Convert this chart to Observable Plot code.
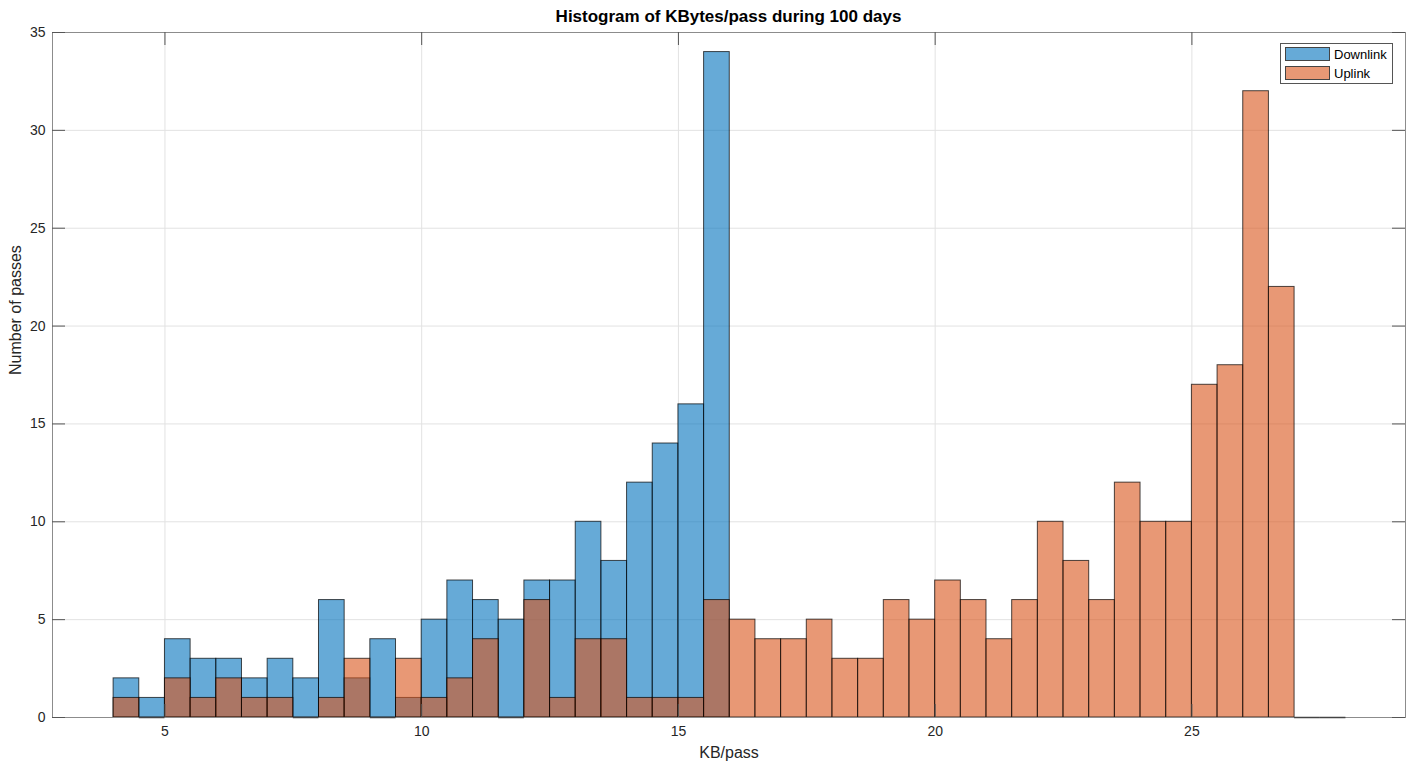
<!DOCTYPE html>
<html>
<head>
<meta charset="utf-8">
<script src="https://cdn.jsdelivr.net/npm/d3@7"></script>
<script src="https://cdn.jsdelivr.net/npm/@observablehq/plot@0.6"></script>
<style>
  body { margin: 0; background: #fff; font-family: "Liberation Sans", Arial, Helvetica, sans-serif; }
  #wrap { position: relative; width: 1416px; height: 767px; overflow: hidden; background: #fff; }
  #title { height: 20px; width: 1416px; box-sizing: border-box; padding-left: 52px; padding-right: 11px; overflow: visible;
           text-align: center; font-weight: bold; font-size: 17px; line-height: 34px; color: #000; white-space: nowrap; }
  #legend { position: absolute; left: 1280px; top: 43px; width: 113px; height: 41px; box-sizing: border-box;
            border: 1px solid #555; background: #fff; font-size: 13px; color: #000; }
  .item { position: absolute; left: 4px; height: 14px; display: flex; align-items: center; }
  .sw { width: 45px; height: 14px; box-sizing: border-box; border: 1px solid #444; margin-right: 4px; }
  svg { display: block; }
</style>
</head>
<body>
<div id="wrap">
  <div id="title">Histogram of KBytes/pass during 100 days</div>
  <div id="chart"></div>
  <div id="legend"></div>
</div>
<script>
// ---- data ----
const binWidth = 0.5;
const downlinkStarts = [4, 4.5, 5, 5.5, 6, 6.5, 7, 7.5, 8, 8.5, 9, 9.5, 10, 10.5, 11, 11.5, 12, 12.5, 13, 13.5, 14, 14.5, 15, 15.5];
const downlinkCounts = [2, 1, 4, 3, 3, 2, 3, 2, 6, 2, 4, 1, 5, 7, 6, 5, 7, 7, 10, 8, 12, 14, 16, 34];
const uplinkStarts = [4, 4.5, 5, 5.5, 6, 6.5, 7, 7.5, 8, 8.5, 9, 9.5, 10, 10.5, 11, 11.5, 12, 12.5, 13, 13.5, 14, 14.5, 15, 15.5,
                      16, 16.5, 17, 17.5, 18, 18.5, 19, 19.5, 20, 20.5, 21, 21.5, 22, 22.5, 23, 23.5, 24, 24.5, 25, 25.5, 26, 26.5, 27, 27.5];
const uplinkCounts = [1, 0, 2, 1, 2, 1, 1, 0, 1, 3, 0, 3, 1, 2, 4, 0, 6, 1, 4, 4, 1, 1, 1, 6,
                      5, 4, 4, 5, 3, 3, 6, 5, 7, 6, 4, 6, 10, 8, 6, 12, 10, 10, 17, 18, 32, 22, 0, 0];
const xTicks = [5, 10, 15, 20, 25];
const yTicks = [0, 5, 10, 15, 20, 25, 30, 35];
const seriesNames = ["Downlink", "Uplink"];
const seriesColors = ["#0072BD", "#D95319"];

const down = downlinkStarts.map((s, i) => ({x1: s, x2: s + binWidth, count: downlinkCounts[i]}));
const up = uplinkStarts.map((s, i) => ({x1: s, x2: s + binWidth, count: uplinkCounts[i]}));

// ---- layout ----
const W = 1416, H = 747, mL = 52, mR = 11, mT = 12, mB = 50;
const innerW = W - mL - mR, innerH = H - mT - mB, tickLen = 13;
const font = '"Liberation Sans", Arial, Helvetica, sans-serif';

const chart = Plot.plot({
  width: W, height: H,
  marginLeft: mL, marginRight: mR, marginTop: mT, marginBottom: mB,
  x: {domain: [2.81, 29.16]},
  y: {domain: [0, 35]},
  style: {fontFamily: font, fontSize: "14px", color: "#262626", background: "transparent", overflow: "visible"},
  marks: [
    Plot.gridX(xTicks, {stroke: "#e2e2e2", strokeOpacity: 1}),
    Plot.gridY(yTicks, {stroke: "#e2e2e2", strokeOpacity: 1}),
    Plot.rectY(down, {x1: "x1", x2: "x2", y: "count", fill: seriesColors[0], fillOpacity: 0.6,
                      stroke: "#000", strokeOpacity: 0.7, strokeWidth: 1}),
    Plot.rectY(up, {x1: "x1", x2: "x2", y: "count", fill: seriesColors[1], fillOpacity: 0.6,
                    stroke: "#000", strokeOpacity: 0.7, strokeWidth: 1}),
    Plot.frame({stroke: "#8c8c8c", strokeWidth: 1}),
    Plot.ruleY(up.filter(d => d.count === 0), {x1: "x1", x2: "x2", y: "count", stroke: "#444", strokeWidth: 1.5}),
    Plot.ruleX(xTicks, {insetTop: innerH - tickLen, stroke: "#555"}),
    Plot.ruleX(xTicks, {insetBottom: innerH - tickLen, stroke: "#555"}),
    Plot.ruleY(yTicks, {insetRight: innerW - tickLen, stroke: "#555"}),
    Plot.ruleY(yTicks, {insetLeft: innerW - tickLen, stroke: "#555"}),
    Plot.axisX(xTicks, {tickSize: 0, tickPadding: 9, label: null, fontSize: 14}),
    Plot.axisY(yTicks, {tickSize: 0, tickPadding: 7, label: null, fontSize: 14}),
    Plot.text(["KB/pass"], {frameAnchor: "bottom", dy: 40, fontSize: 16, fill: "#262626"}),
    Plot.text(["Number of passes"], {frameAnchor: "left", rotate: -90, dx: -37, fontSize: 16, fill: "#262626"})
  ]
});
document.getElementById("chart").appendChild(chart);

// ---- legend ----
const leg = document.getElementById("legend");
seriesNames.forEach((name, i) => {
  const item = document.createElement("div");
  item.className = "item";
  item.style.top = (3 + i * 19) + "px";
  const sw = document.createElement("div");
  sw.className = "sw";
  sw.style.background = d3.interpolateRgb("white", seriesColors[i])(0.6);
  const t = document.createElement("span");
  t.textContent = name;
  item.appendChild(sw); item.appendChild(t);
  leg.appendChild(item);
});
</script>
</body>
</html>
